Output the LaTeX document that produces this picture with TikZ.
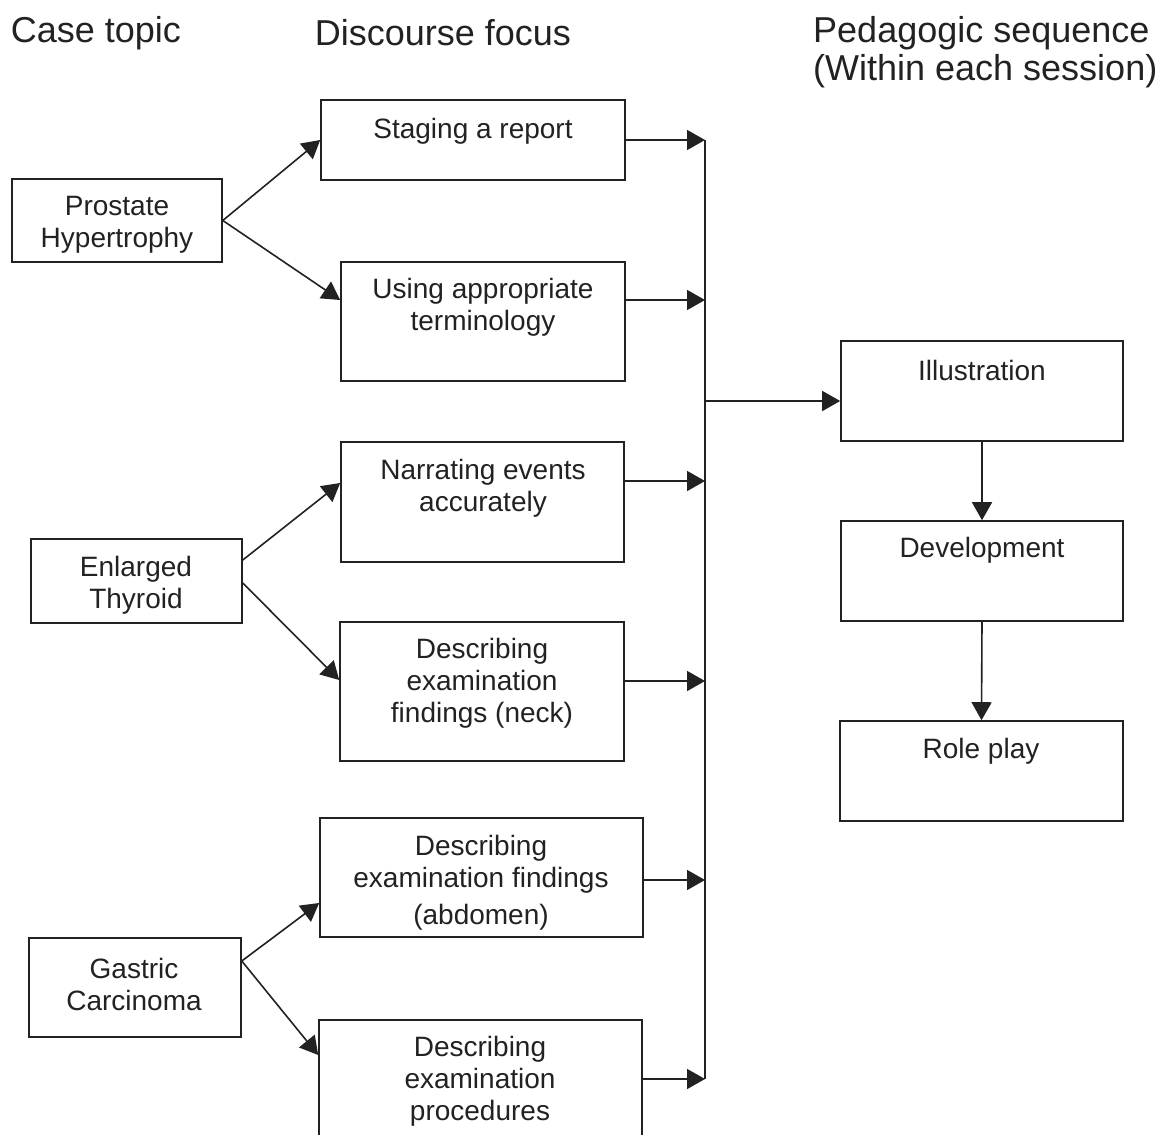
\documentclass[tikz,border=0pt]{standalone}
\usepackage{fontspec}
\setmainfont{Liberation Sans}
\usetikzlibrary{arrows.meta,calc}
\definecolor{ink}{HTML}{222222}
\begin{document}
\begin{tikzpicture}[x=1pt,y=-1pt,
  box/.style={draw=ink,line width=1.6pt,inner sep=0pt,rectangle},
  txt/.style={text=ink,align=center,font=\fontsize{28}{32}\selectfont,inner sep=0pt},
  hdr/.style={text=ink,font=\fontsize{36}{38}\selectfont,inner sep=0pt},
  conn/.style={draw=ink,line width=1.6pt,-{Triangle[length=18pt,width=20pt]}},
  plain/.style={draw=ink,line width=1.6pt}]
\useasboundingbox (0,0) rectangle (1160,1135);
\clip (0,0) rectangle (1160,1135);
\fill[white] (0,0) rectangle (1160,1135);

% headers
\node[hdr] (h1) at (96,33) {Case topic};
\node[hdr] (h2) at (443,33) {Discourse focus};
\node[hdr,anchor=west,align=left] (h3) at (813,52) {Pedagogic sequence\\(Within each session)};

% boxes
\node[box,minimum width=210,minimum height=83] (ph) at (117,220.5) {};
\node[box,minimum width=304,minimum height=80] (sr) at (473,140) {};
\node[box,minimum width=284,minimum height=119] (ut) at (483,321.5) {};
\node[box,minimum width=283,minimum height=120] (ne) at (482.5,502) {};
\node[box,minimum width=211,minimum height=84] (et) at (136.5,581) {};
\node[box,minimum width=284,minimum height=139] (dn) at (482,691.5) {};
\node[box,minimum width=323,minimum height=119] (da) at (481.5,877.5) {};
\node[box,minimum width=212,minimum height=99] (gc) at (135,987.5) {};
\node[box,minimum width=323,minimum height=130] (dp) at (480.5,1085) {};
\node[box,minimum width=282,minimum height=100] (il) at (982,391) {};
\node[box,minimum width=282,minimum height=100] (dv) at (982,571) {};
\node[box,minimum width=283,minimum height=100] (rp) at (981.5,771) {};

% texts
\node[txt] (t1) at (117,225) {Prostate\\Hypertrophy};
\node[txt] (t2) at (473,131) {Staging a report};
\node[txt] (t3) at (483,307) {Using appropriate\\terminology};
\node[txt] (t4) at (483,488) {Narrating events\\accurately};
\node[txt] (t5) at (136,585) {Enlarged\\Thyroid};
\node[txt] (t6) at (482,683) {Describing\\examination\\findings (neck)};
\node[txt] (t7) at (481,883) {Describing\\examination findings\\[5pt](abdomen)};
\node[txt] (t8) at (134,984.5) {Gastric\\Carcinoma};
\node[txt] (t9) at (480,1081.5) {Describing\\examination\\procedures};
\node[txt] (t10) at (982,370) {Illustration};
\node[txt] (t11) at (982,550) {Development};
\node[txt] (t12) at (981,751) {Role play};

% bus
\coordinate (bt) at (705,140);
\coordinate (bb) at (705,1079);
\coordinate (bo) at (705,401);
\draw[plain] (bt) -- (bb);

% branch arrows
\draw[conn] (ph.east) -- (sr.west);
\draw[conn] (ph.east) -- ([yshift=21.5pt]ut.west);
\draw[conn] ([yshift=21pt]et.east) -- ([yshift=19pt]ne.west);
\draw[conn] ([yshift=-2pt]et.east) -- ([yshift=11.5pt]dn.west);
\draw[conn] ([yshift=26.5pt]gc.east) -- ([yshift=-25.5pt]da.west);
\draw[conn] ([yshift=26.5pt]gc.east) -- ([yshift=30pt]dp.west);

% to bus
\draw[conn] (sr.east) -- (sr.east -| bt);
\draw[conn] ([yshift=21.5pt]ut.east) coordinate (a2) -- (a2 -| bt);
\draw[conn] ([yshift=21pt]ne.east) coordinate (a3) -- (a3 -| bt);
\draw[conn] ([yshift=10.5pt]dn.east) coordinate (a4) -- (a4 -| bt);
\draw[conn] ([yshift=-2.5pt]da.east) coordinate (a5) -- (a5 -| bt);
\draw[conn] ([yshift=6pt]dp.east) coordinate (a6) -- (a6 -| bt);

% output
\draw[conn] (bo) -- (bo -| il.west);
\draw[conn] (il.south) -- (dv.north);
\draw[conn] (dv.south) -- (rp.north);
\end{tikzpicture}
\end{document}
